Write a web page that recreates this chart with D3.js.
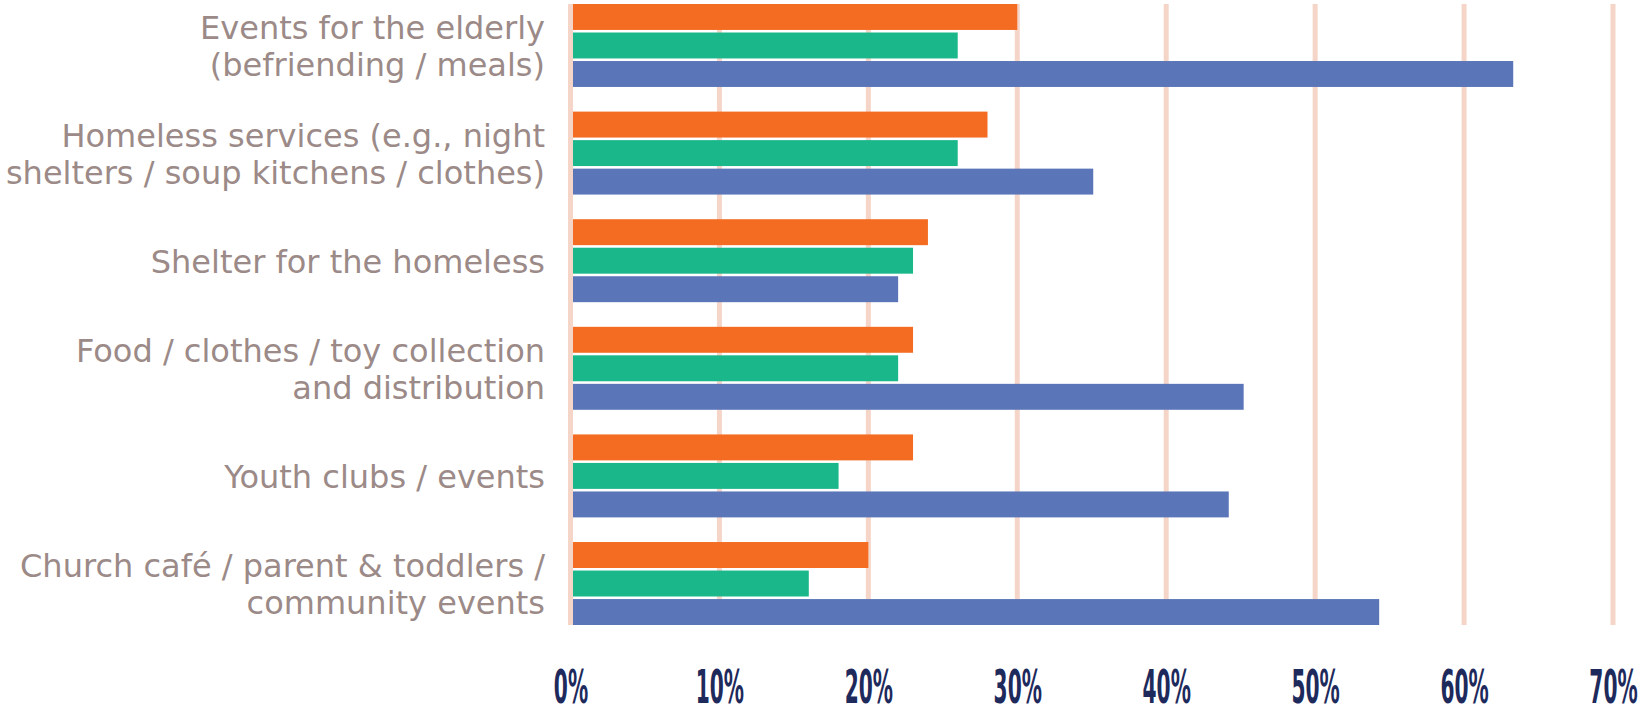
<!DOCTYPE html>
<html>
<head>
<meta charset="utf-8">
<script src="https://cdn.jsdelivr.net/npm/d3@7/dist/d3.min.js"></script>
<style>
  html, body { margin: 0; padding: 0; background: #fff; }
  svg { display: block; }
</style>
</head>
<body>
<div id="chart"></div>
<script>
// Horizontal grouped bar chart: church community activities, three series per category.

const categories = [
  "Events for the elderly\n(befriending / meals)",
  "Homeless services (e.g., night\nshelters / soup kitchens / clothes)",
  "Shelter for the homeless",
  "Food / clothes / toy collection\nand distribution",
  "Youth clubs / events",
  "Church café / parent & toddlers /\ncommunity events",
];

const seriesNames = ["Series 1", "Series 2", "Series 3"];
const seriesOrange = [30, 28, 24, 23, 23, 20];
const seriesGreen  = [26, 26, 23, 22, 18, 16];
const seriesBlue   = [63.3, 35.1, 22, 45.2, 44.2, 54.3];

const xTicks = [0, 10, 20, 30, 40, 50, 60, 70];

const COLORS = ["#f36c21", "#1ab78b", "#5b76b8"];

const W = 1643, H = 709;
const PLOT = { left: 570.5, right: 1613, top: 4, bottom: 625 };

const svg = d3.select("#chart").append("svg")
  .attr("width", W)
  .attr("height", H);

const x = d3.scaleLinear().domain([0, 70]).range([PLOT.left, PLOT.right]);
const y = d3.scaleBand().domain(categories).range([PLOT.top, PLOT.bottom])
  .paddingInner(0.229).paddingOuter(0);
const ySub = d3.scaleBand().domain(seriesNames).range([0, y.bandwidth()])
  .paddingInner(0.09);

const rows = categories.map((c, i) => ({
  cat: c,
  vals: [seriesOrange[i], seriesGreen[i], seriesBlue[i]],
}));

// gridlines (behind bars)
const grid = svg.append("g").attr("class", "grid");
grid.selectAll("line")
  .data(xTicks.filter(d => d !== 0))
  .join("line")
  .attr("x1", d => x(d)).attr("x2", d => x(d))
  .attr("y1", PLOT.top).attr("y2", PLOT.bottom)
  .attr("stroke", "#f6d5c9")
  .attr("stroke-width", 5);

// bars
const gGroups = svg.append("g").attr("class", "bars")
  .selectAll("g")
  .data(rows)
  .join("g")
  .attr("transform", d => `translate(0,${y(d.cat)})`);

gGroups.selectAll("rect")
  .data(d => d.vals.map((v, j) => ({ v, s: seriesNames[j], j })))
  .join("rect")
  .attr("x", x(0))
  .attr("y", d => ySub(d.s))
  .attr("width", d => x(d.v) - x(0))
  .attr("height", ySub.bandwidth())
  .attr("fill", d => COLORS[d.j]);

// zero line on top
svg.append("line")
  .attr("x1", x(0)).attr("x2", x(0))
  .attr("y1", PLOT.top).attr("y2", PLOT.bottom)
  .attr("stroke", "#f6d5c9")
  .attr("stroke-width", 5);

// category labels
const LINE_H = 37;
const labels = svg.append("g").attr("class", "cat-labels")
  .selectAll("text")
  .data(categories)
  .join("text")
  .attr("text-anchor", "end")
  .attr("font-family", "'DejaVu Sans', sans-serif")
  .attr("font-size", 32)
  .attr("fill", "#9b8a87")
  .attr("transform", d => `translate(545,${y(d) + y.bandwidth() / 2})`);

labels.each(function (d) {
  const lines = d.split("\n");
  const t = d3.select(this);
  const off = -(lines.length - 1) * LINE_H / 2 + 12;
  lines.forEach((ln, k) => {
    t.append("tspan").attr("x", 0).attr("y", off + k * LINE_H).text(ln);
  });
});

// x axis tick labels (tall condensed look via horizontal squeeze)
const xAxis = svg.append("g")
  .attr("transform", `translate(0,703)`)
  .call(d3.axisBottom(x).tickValues(xTicks).tickFormat(d => d + "%").tickSize(0).tickPadding(0));
xAxis.select(".domain").remove();
xAxis.selectAll("text")
  .attr("dy", 0)
  .attr("y", 0)
  .attr("font-family", "'DejaVu Sans', sans-serif")
  .attr("font-weight", 700)
  .attr("font-size", 47)
  .attr("fill", "#1e2a5c")
  .attr("transform", "scale(0.43,1)");
</script>
</body>
</html>
